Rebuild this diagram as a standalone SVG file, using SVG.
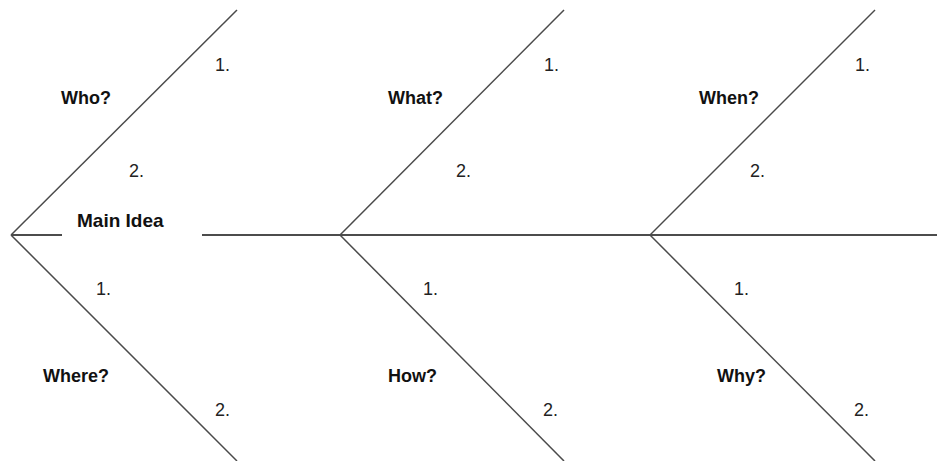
<svg xmlns="http://www.w3.org/2000/svg" width="937" height="461" viewBox="0 0 937 461">
<style>
.bg{fill:#fff}
.spine{stroke:#111;stroke-width:1.5;fill:none}
.bone{stroke:#4a4a4a;stroke-width:1.5;fill:none}
.q{font-family:"Liberation Sans",Arial,sans-serif;font-weight:bold;font-size:18px;fill:#111}
.n{font-family:"Liberation Sans",Arial,sans-serif;font-size:18px;fill:#222}
</style>
<rect class="bg" x="0" y="0" width="937" height="461"/>
<g id="connectors">
<line class="spine" x1="11" y1="235" x2="62" y2="235"/>
<line class="spine" x1="202" y1="235" x2="937" y2="235"/>
<line class="bone" x1="11" y1="235" x2="237" y2="10"/>
<line class="bone" x1="11" y1="235" x2="237" y2="461"/>
<line class="bone" x1="340" y1="235" x2="564" y2="10"/>
<line class="bone" x1="340" y1="235" x2="564" y2="461"/>
<line class="bone" x1="650" y1="235" x2="875" y2="10"/>
<line class="bone" x1="650" y1="235" x2="875" y2="461"/>
</g>
<g id="main-idea"><text class="q" x="77" y="227" style="font-size:19px">Main Idea</text></g>
<g id="who">
<text class="q" x="61" y="104">Who?</text>
<text class="n" x="215" y="71">1.</text>
<text class="n" x="129" y="177">2.</text>
</g>
<g id="where">
<text class="q" x="43" y="382">Where?</text>
<text class="n" x="96" y="295">1.</text>
<text class="n" x="215" y="416">2.</text>
</g>
<g id="what">
<text class="q" x="388" y="104">What?</text>
<text class="n" x="544" y="71">1.</text>
<text class="n" x="456" y="177">2.</text>
</g>
<g id="how">
<text class="q" x="388" y="382">How?</text>
<text class="n" x="423" y="295">1.</text>
<text class="n" x="543" y="416">2.</text>
</g>
<g id="when">
<text class="q" x="699" y="104">When?</text>
<text class="n" x="855" y="71">1.</text>
<text class="n" x="750" y="177">2.</text>
</g>
<g id="why">
<text class="q" x="717" y="382">Why?</text>
<text class="n" x="734" y="295">1.</text>
<text class="n" x="854" y="416">2.</text>
</g>
</svg>
